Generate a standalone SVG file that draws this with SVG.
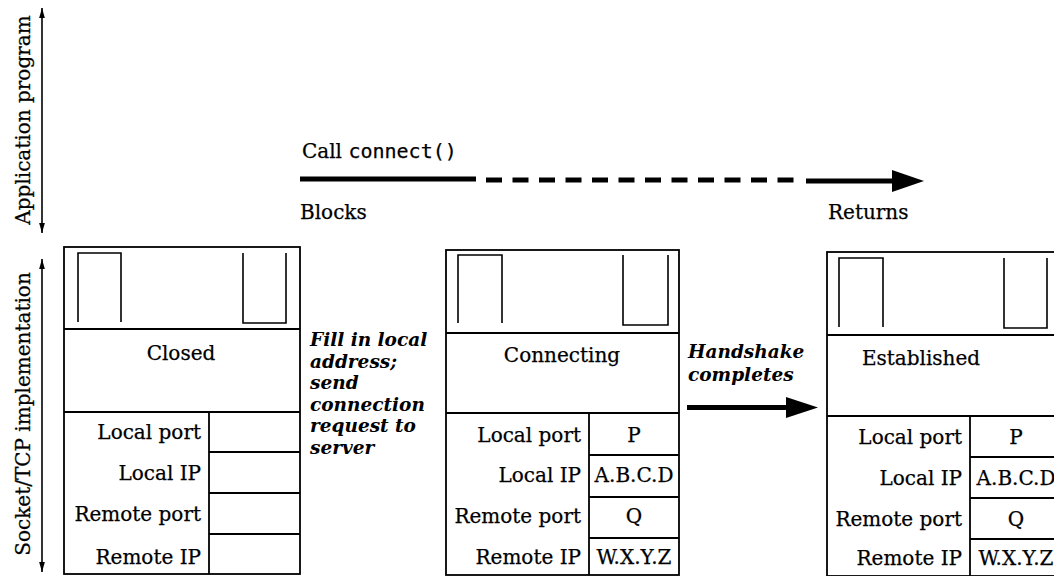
<svg xmlns="http://www.w3.org/2000/svg" width="1054" height="576" viewBox="0 0 1054 576">
<defs>
<style>
.t{font-family:"DejaVu Serif","Liberation Serif",serif;font-size:20px;fill:#000;stroke:#000;stroke-width:0.25}
.m{font-family:"DejaVu Sans Mono","Liberation Mono",monospace;font-size:20px}
.bi{font-family:"DejaVu Serif","Liberation Serif",serif;font-size:18.5px;font-weight:bold;font-style:italic;fill:#000}
.box{fill:none;stroke:#000;stroke-width:1.8}
.buf{fill:none;stroke:#000;stroke-width:1.6}
.thin{stroke:#000;stroke-width:1.6;fill:none}
.thick{stroke:#000;stroke-width:5;fill:none}
.r{text-anchor:end}
.c{text-anchor:middle}
</style>
<marker id="ah" markerUnits="userSpaceOnUse" markerWidth="10" markerHeight="16" refX="14" refY="4" viewBox="0 0 14 8" orient="auto-start-reverse" overflow="visible">
<path d="M0,0 L14,4 L0,8 Z" fill="#000"/>
</marker>
</defs>
<rect width="1054" height="576" fill="#fff"/>

<g id="axis-labels">
<text class="t c" font-size="20.5" transform="translate(30,120) rotate(-90)">Application program</text>
<text class="t c" font-size="20.5" transform="translate(30,414) rotate(-90)">Socket/TCP implementation</text>
</g>

<g id="app-labels">
<text class="t" x="302" y="158">Call <tspan class="m">connect()</tspan></text>
<text class="t" x="300" y="219">Blocks</text>
<text class="t" x="828" y="219">Returns</text>
</g>

<g id="socket-closed">
<rect class="box" x="64" y="247" width="236" height="327"/>
<line class="box" x1="64" y1="329" x2="300" y2="329"/>
<line class="box" x1="64" y1="412" x2="300" y2="412"/>
<line class="box" x1="209" y1="412" x2="209" y2="574"/>
<line class="box" x1="209" y1="452" x2="300" y2="452"/>
<line class="box" x1="209" y1="493" x2="300" y2="493"/>
<line class="box" x1="209" y1="534" x2="300" y2="534"/>
<path class="buf" d="M78,322 V253 H121 V322"/>
<path class="buf" d="M243,253 V323 H286 V253"/>
<text class="t c" x="181" y="360">Closed</text>
<text class="t r" x="201" y="439">Local port</text>
<text class="t r" x="201" y="480">Local IP</text>
<text class="t r" x="201" y="521">Remote port</text>
<text class="t r" x="201" y="564">Remote IP</text>
</g>

<g id="note-fill">
<text class="bi" x="310" y="346">Fill in local</text>
<text class="bi" x="310" y="367.5">address;</text>
<text class="bi" x="310" y="389">send</text>
<text class="bi" x="310" y="410.5">connection</text>
<text class="bi" x="310" y="432">request to</text>
<text class="bi" x="310" y="453.5">server</text>
</g>

<g id="socket-connecting">
<rect class="box" x="446" y="250" width="233" height="325"/>
<line class="box" x1="446" y1="333" x2="679" y2="333"/>
<line class="box" x1="446" y1="413" x2="679" y2="413"/>
<line class="box" x1="589" y1="413" x2="589" y2="575"/>
<line class="box" x1="589" y1="455" x2="679" y2="455"/>
<line class="box" x1="589" y1="497" x2="679" y2="497"/>
<line class="box" x1="589" y1="538" x2="679" y2="538"/>
<path class="buf" d="M458,323 V255 H502 V323"/>
<path class="buf" d="M623,255 V325 H668 V255"/>
<text class="t c" x="562" y="362">Connecting</text>
<text class="t r" x="581" y="442">Local port</text>
<text class="t r" x="581" y="482">Local IP</text>
<text class="t r" x="581" y="523">Remote port</text>
<text class="t r" x="581" y="564">Remote IP</text>
<text class="t c" x="634" y="442">P</text>
<text class="t c" x="634" y="482">A.B.C.D</text>
<text class="t c" x="634" y="523">Q</text>
<text class="t c" x="634" y="564">W.X.Y.Z</text>
</g>

<g id="note-handshake">
<text class="bi" x="688" y="358">Handshake</text>
<text class="bi" x="688" y="381">completes</text>
</g>

<g id="socket-established">
<rect class="box" x="827" y="252" width="235" height="324"/>
<line class="box" x1="827" y1="335" x2="1062" y2="335"/>
<line class="box" x1="827" y1="416" x2="1062" y2="416"/>
<line class="box" x1="970" y1="416" x2="970" y2="576"/>
<line class="box" x1="970" y1="457" x2="1062" y2="457"/>
<line class="box" x1="970" y1="498" x2="1062" y2="498"/>
<line class="box" x1="970" y1="539" x2="1062" y2="539"/>
<path class="buf" d="M839,327 V258 H883 V327"/>
<path class="buf" d="M1004,258 V328 H1047 V258"/>
<text class="t c" x="921" y="365">Established</text>
<text class="t r" x="962" y="444">Local port</text>
<text class="t r" x="962" y="485">Local IP</text>
<text class="t r" x="962" y="526">Remote port</text>
<text class="t r" x="962" y="565">Remote IP</text>
<text class="t c" x="1016" y="444">P</text>
<text class="t c" x="1016" y="485">A.B.C.D</text>
<text class="t c" x="1016" y="526">Q</text>
<text class="t c" x="1016" y="565">W.X.Y.Z</text>
</g>

<g id="connectors">
<line class="thin" x1="42" y1="8" x2="42" y2="233" marker-start="url(#ah)" marker-end="url(#ah)"/>
<line class="thin" x1="42" y1="259" x2="42" y2="572" marker-start="url(#ah)" marker-end="url(#ah)"/>
<line class="thick" x1="300" y1="179" x2="476" y2="179"/>
<line class="thick" x1="486" y1="180" x2="796" y2="180" stroke-dasharray="16 10.5"/>
<line class="thick" x1="806" y1="181" x2="896" y2="181"/>
<path d="M924,181 L892,170 L892,192 Z" fill="#000"/>
<line class="thick" x1="687" y1="407.5" x2="790" y2="407.5" stroke-width="5.5"/>
<path d="M818,407.5 L786,397 L786,418 Z" fill="#000"/>
</g>
</svg>
